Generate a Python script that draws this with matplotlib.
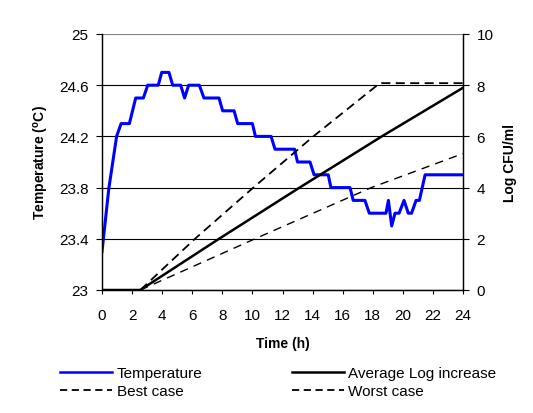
import matplotlib
matplotlib.use("Agg")
import matplotlib.pyplot as plt
from matplotlib.lines import Line2D

plt.rcParams['font.family'] = ['Liberation Sans', 'DejaVu Sans']
plt.rcParams['mathtext.fontset'] = 'custom'
plt.rcParams['mathtext.rm'] = 'Liberation Sans'
plt.rcParams['mathtext.bf'] = 'Liberation Sans:bold'

# ---- data ----
temp_time = [0, 0.45, 0.97, 1.27, 1.82, 2.24, 2.75, 3.04, 3.74, 3.97, 4.45, 4.7, 5.23, 5.49,
             5.76, 6.47, 6.78, 7.78, 8.02, 8.78, 9.02, 10.0, 10.2, 11.24, 11.5, 12.8, 13.0,
             13.83, 14.1, 15.04, 15.22, 16.49, 16.7, 17.48, 17.77, 18.88, 19.04, 19.26,
             19.48, 19.75, 20.08, 20.36, 20.58, 20.88, 21.1, 21.48, 24]
temperature = [23.3, 23.79, 24.2, 24.3, 24.3, 24.5, 24.5, 24.6, 24.6, 24.7, 24.7, 24.6, 24.6, 24.5,
               24.6, 24.6, 24.5, 24.5, 24.4, 24.4, 24.3, 24.3, 24.2, 24.2, 24.1, 24.1, 24.0,
               24.0, 23.9, 23.9, 23.8, 23.8, 23.7, 23.7, 23.6, 23.6, 23.7, 23.5,
               23.6, 23.6, 23.7, 23.6, 23.6, 23.7, 23.7, 23.9, 23.9]

avg_time = [0, 2.55, 7.73, 13.0, 18.6, 24]
avg_log = [0, 0, 1.98, 3.95, 6.0, 7.9]

best_time = [2.55, 6.18, 10.06, 14.05, 18.3, 18.6, 24]
best_log = [0, 2.0, 4.0, 6.0, 8.0, 8.08, 8.08]

worst_time = [2.55, 10.17, 17.9, 24]
worst_log = [0, 2.0, 4.0, 5.33]

x_ticks = list(range(0, 25, 2))
temp_ticks = [23, 23.4, 23.8, 24.2, 24.6, 25]
temp_tick_labels = ['23', '23.4', '23.8', '24.2', '24.6', '25']
log_ticks = [0, 2, 4, 6, 8, 10]

# ---- figure ----
W, H = 533, 414
fig = plt.figure(figsize=(W / 100, H / 100), dpi=100)
L, R, T, B = 102, 463, 35, 291
ax = fig.add_axes([L / W, 1 - B / H, (R - L) / W, (B - T) / H])
ax2 = ax.twinx()

ax.set_xlim(0, 24)
ax.set_ylim(23, 25)
ax2.set_ylim(0, 10)

for y in temp_ticks:
    ax.axhline(y, color='black' if y < 25 else '#808080', lw=0.8, zorder=0)

ax.plot(temp_time, temperature, color='#0000ff', lw=2.2, label='Temperature', zorder=3)
ax2.plot(avg_time, avg_log, color='black', lw=1.8, label='Average Log increase')
ax2.plot(best_time, best_log, color='black', lw=1.3, dashes=(5, 3), label='Best case')
ax2.plot(worst_time, worst_log, color='black', lw=1.0, dashes=(6, 4.5), label='Worst case')

ax.set_xticks(x_ticks)
ax.set_yticks(temp_ticks)
ax.set_yticklabels(temp_tick_labels)
ax2.set_yticks(log_ticks)

for a in (ax, ax2):
    a.spines['top'].set_visible(False)
    for s in a.spines.values():
        s.set_linewidth(0.9)
ax.tick_params(axis='y', direction='out', length=4.3, width=0.8, pad=5.5, labelsize=11)
ax.tick_params(axis='x', direction='out', length=2.9, width=0.8, pad=10, labelsize=11)
ax2.tick_params(axis='y', direction='out', length=4.3, width=0.8, pad=5.5, labelsize=11)

ax.set_xlabel('Time (h)', fontsize=10, fontweight='bold', va='center')
ax.xaxis.set_label_coords(0.5, (B - 344) / (B - T))
ax.set_ylabel(r'Temperature ($\mathbf{^{o}}$C)', fontsize=10, fontweight='bold', va='center')
ax.yaxis.set_label_coords((42 - L) / (R - L), 0.5)
ax2.set_ylabel('Log CFU/ml', fontsize=10, fontweight='bold', va='center', rotation=90)
ax2.yaxis.set_label_coords((510 - L) / (R - L), 0.5)

h_temp = Line2D([], [], color='#0000ff', lw=1.8)
h_avg = Line2D([], [], color='black', lw=1.8)
h_best = Line2D([], [], color='black', lw=1.3, dashes=(4, 2.5))
h_worst = Line2D([], [], color='black', lw=1.3, dashes=(4, 2.5))

kw = dict(frameon=False, borderpad=0, borderaxespad=0, loc='upper left', fontsize=11,
          handlelength=3.4, handletextpad=0.3, labelspacing=0.28)
leg1 = fig.legend([h_temp, h_best], ['Temperature', 'Best case'],
                  bbox_to_anchor=(60 / W, 1 - 367 / H), **kw)
leg2 = fig.legend([h_avg, h_worst], ['Average Log increase', 'Worst case'],
                  bbox_to_anchor=(291.7 / W, 1 - 367 / H), **kw)

fig.savefig('out.png', dpi=100)
